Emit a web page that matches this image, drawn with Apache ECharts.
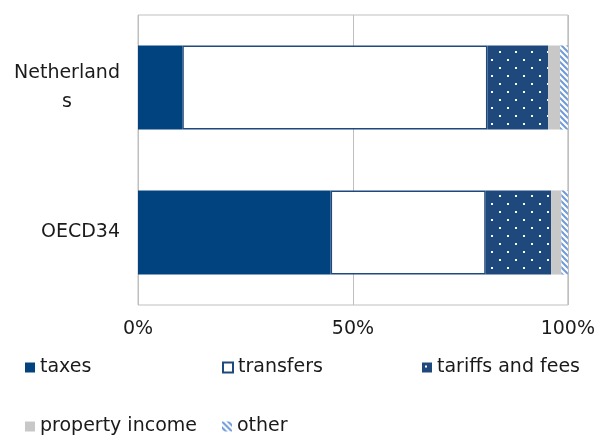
<!DOCTYPE html>
<html>
<head>
<meta charset="utf-8">
<script src="https://cdn.jsdelivr.net/npm/echarts@6/dist/echarts.min.js"></script>
<style>
html,body{margin:0;padding:0;background:#fff;}
#c{width:598px;height:437px;}
</style>
</head>
<body>
<div id="c"></div>
<script>
const categories = ['Netherlands', 'OECD34'];
const seriesNames = ['taxes', 'transfers', 'tariffs and fees', 'property income', 'other'];
const taxes = [10.3, 44.8];
const transfers = [71.0, 36.1];
const tariffsAndFees = [14.1, 15.2];
const propertyIncome = [2.8, 2.4];
const other = [1.8, 1.5];
const tickValues = [0, 50, 100];
const tickLabels = ['0%', '50%', '100%'];

const FONT = 'DejaVu Sans';
const FS = 19;
const TXT = '#1a1a1a';

function dotPattern() {
  const c = document.createElement('canvas');
  c.width = 16; c.height = 16;
  const g = c.getContext('2d');
  g.fillStyle = '#1f497d';
  g.fillRect(0, 0, 16, 16);
  g.fillStyle = '#ffffff';
  g.fillRect(3, 3, 2, 2);
  g.fillRect(11, 11, 2, 2);
  return { image: c, repeat: 'repeat' };
}
function stripePattern() {
  const c = document.createElement('canvas');
  c.width = 6; c.height = 6;
  const g = c.getContext('2d');
  g.fillStyle = '#ffffff';
  g.fillRect(0, 0, 6, 6);
  g.strokeStyle = '#6f9ad8';
  g.lineWidth = 2;
  g.beginPath();
  g.moveTo(-1, -1); g.lineTo(7, 7);
  g.moveTo(-4, 2); g.lineTo(4, 10);
  g.moveTo(2, -4); g.lineTo(10, 4);
  g.stroke();
  return { image: c, repeat: 'repeat' };
}

const styles = [
  { color: '#00437f' },
  { color: '#ffffff', borderColor: '#1f497d', borderWidth: 1.5 },
  { color: dotPattern() },
  { color: '#c8c8c8' },
  { color: stripePattern() }
];
const values = [taxes, transfers, tariffsAndFees, propertyIncome, other];

const chart = echarts.init(document.getElementById('c'));

function legend(name, left, top, extra) {
  return {
    data: [Object.assign({ name: name, icon: 'rect' }, extra || {})],
    left: left, top: top, padding: 0,
    itemWidth: 10, itemHeight: 10, itemGap: 5,
    textStyle: { fontFamily: FONT, fontSize: FS, color: TXT },
    selectedMode: false
  };
}

chart.setOption({
  animation: false,
  textStyle: { fontFamily: FONT },
  grid: {
    left: 138, right: 28, top: 15, bottom: 132,
    show: true, borderColor: '#bfbfbf', borderWidth: 1, containLabel: false
  },
  legend: [
    legend(seriesNames[0], 25, 358),
    legend(seriesNames[1], 222, 358, { itemStyle: { color: '#fff', borderColor: '#1f497d', borderWidth: 2 } }),
    legend(seriesNames[2], 422, 358),
    legend(seriesNames[3], 25, 417),
    legend(seriesNames[4], 222, 417)
  ],
  xAxis: {
    type: 'value', min: 0, max: 100, interval: 50,
    axisLine: { show: false }, axisTick: { show: false },
    splitLine: { show: true, lineStyle: { color: '#bfbfbf', width: 1 } },
    axisLabel: {
      margin: 15, fontFamily: FONT, fontSize: FS, color: TXT,
      formatter: function (v) { const i = tickValues.indexOf(v); return i >= 0 ? tickLabels[i] : ''; }
    }
  },
  yAxis: {
    type: 'category', inverse: true, data: categories,
    axisLine: { show: false }, axisTick: { show: false },
    axisLabel: {
      margin: 18, fontFamily: FONT, fontSize: FS, color: TXT,
      formatter: function (v) {
        if (v === 'Netherlands') return '{n|Netherland}\n{n|s}';
        return v;
      },
      rich: {
        n: { width: 106, align: 'center', lineHeight: 29, fontFamily: FONT, fontSize: FS, color: TXT }
      }
    }
  },
  series: seriesNames.map(function (name, i) {
    return {
      name: name, type: 'bar', stack: 'total', barWidth: '58%',
      itemStyle: styles[i],
      emphasis: { disabled: true },
      data: values[i]
    };
  })
});
</script>
</body>
</html>
